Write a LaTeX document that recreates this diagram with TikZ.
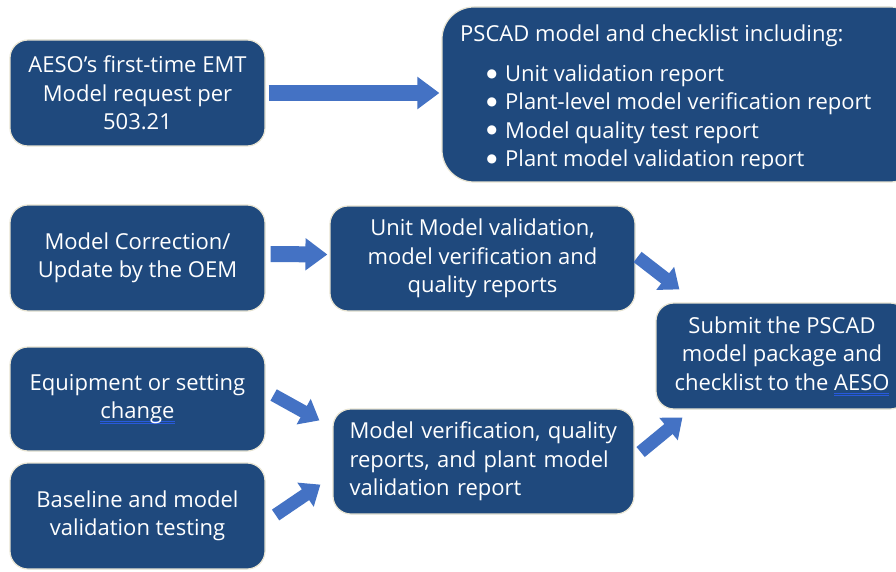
\documentclass[tikz,border=0pt]{standalone}
\usepackage{fontspec}
\setmainfont{Open Sans}
\newfontfamily\dejavu{DejaVu Sans}
\usetikzlibrary{arrows.meta,calc}
\definecolor{boxblue}{RGB}{31,73,125}
\definecolor{arrowblue}{RGB}{68,114,196}
\definecolor{rim}{RGB}{232,228,210}
\definecolor{spell}{RGB}{40,90,220}
\newcommand{\blueul}[1]{\setbox0=\hbox{#1}\leavevmode\rlap{\color{spell}\rule[-3.5pt]{\wd0}{0.9pt}}\rlap{\color{spell}\rule[-5.5pt]{\wd0}{0.7pt}}\box0}
\newcommand{\bigbul}{\llap{\raisebox{4.5pt}{\dejavu\fontsize{12}{12}\selectfont ●}\hspace{8pt}}}
\begin{document}
\begin{tikzpicture}[x=1pt,y=-1pt,
  box/.style={draw=rim, line width=1.2pt, fill=boxblue, rounded corners=18pt,
    text=white, font=\fontsize{22}{28.5}\selectfont, align=center, inner sep=0pt},
  txt/.style={text=white, font=\fontsize{22}{28.5}\selectfont, inner sep=0pt, anchor=base west},
  harrow/.style={draw=arrowblue, line width=16pt, -{Triangle[length=22pt,width=31pt]}},
  darrow/.style={draw=arrowblue, line width=13pt, -{Triangle[length=18pt,width=28pt]}}]
\useasboundingbox (0,0) rectangle (896,572);
\clip (0,0) rectangle (896,572);
\fill[white] (0,0) rectangle (896,572);

\node[box, minimum width=255pt, minimum height=106pt] (A) at (137.5,93)
  {AESO’s first-time EMT\\Model request per\\503.21};
\node[box, rounded corners=32pt, minimum width=480pt, minimum height=175pt] (B) at (682,94.5) {};
\begin{scope}
  \clip (440,0) rectangle (896,169);
  \node[txt] (b0) at (460,42) {PSCAD model and checklist including:};
  \node[txt] (b1) at (505,82) {\bigbul Unit validation report};
  \node[txt] (b2) at (505,110) {\bigbul Plant-level model verification report};
  \node[txt] (b3) at (505,138.5) {\bigbul Model quality test report};
  \node[txt] (b4) at (505,167) {\bigbul Plant model validation report};
\end{scope}

\node[box, minimum width=255pt, minimum height=106pt] (C) at (137.5,258)
  {Model Correction/\\Update by the OEM};
\node[box, minimum width=305pt, minimum height=105pt] (D) at (482.5,258.5)
  {Unit Model validation,\\model verification and\\quality reports};
\node[box, minimum width=252pt, minimum height=106pt] (E) at (782,356)
  {Submit the PSCAD\\model package and\\checklist to the \blueul{AESO}};
\node[box, minimum width=255pt, minimum height=104pt] (G) at (137.5,399)
  {Equipment or setting\\\blueul{change}};
\node[box, minimum width=255pt, minimum height=106pt] (H) at (137.5,516)
  {Baseline and model\\validation testing};
\node[box, minimum width=301pt, minimum height=105pt, text width=268pt, align=left] (F) at (483.5,461.5)
  {Model verification, quality\\reports, and plant model\\validation report};

\draw[harrow] ([xshift=3pt]A.east) -- ([xshift=-2pt]A.east -| B.west);
\draw[harrow] ([shift={(5,-4)}]C.east) -- ([shift={(-2,-4)}]D.west);
\draw[darrow] ([shift={(2,-1.5)}]D.east) -- ([shift={(24,-13)}]E.north west);
\draw[darrow] ([shift={(6,-9.5)}]F.east) -- ([shift={(27,8)}]E.south west);
\draw[darrow] ([shift={(8,-4)}]G.east) -- ([shift={(-13,12)}]F.north west);
\draw[darrow] ([shift={(10,-1)}]H.east) -- ([shift={(-12,-30)}]F.south west);
\end{tikzpicture}
\end{document}
